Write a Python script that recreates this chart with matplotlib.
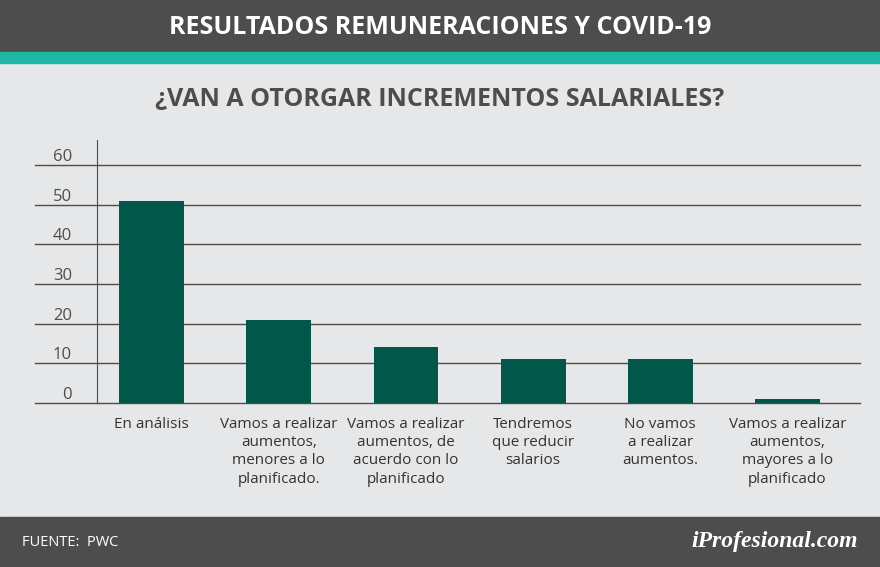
import matplotlib
matplotlib.use("Agg")
import matplotlib.pyplot as plt
from matplotlib.patches import Rectangle
import numpy as np

categories = ["En análisis",
              "Vamos a realizar\naumentos,\nmenores a lo\nplanificado.",
              "Vamos a realizar\naumentos, de\nacuerdo con lo\nplanificado",
              "Tendremos\nque reducir\nsalarios",
              "No vamos\na realizar\naumentos.",
              "Vamos a realizar\naumentos,\nmayores a lo\nplanificado"]
values = [51, 21, 14, 11, 11, 1]
yticks = [0, 10, 20, 30, 40, 50, 60]

W, H = 880, 567
fig = plt.figure(figsize=(W / 100, H / 100), dpi=100)
fig.patch.set_facecolor("#e6e7e8")
plt.rcParams["font.family"] = "Open Sans"

# header / footer bands
fig.add_artist(Rectangle((0, 1 - 52 / H), 1, 52 / H, transform=fig.transFigure, color="#4d4d4d"))
fig.add_artist(Rectangle((0, 1 - 63 / H), 1, 11 / H, transform=fig.transFigure, color="#1cb8a5"))
fig.add_artist(Rectangle((0, 0), 1, 50 / H, transform=fig.transFigure, color="#4d4d4d"))
fig.text(0.5, 1 - 27 / H, "RESULTADOS REMUNERACIONES Y COVID-19", color="white",
         fontsize=18, fontweight="bold", ha="center", va="center")
fig.text(0.5, 1 - 99 / H, "¿VAN A OTORGAR INCREMENTOS SALARIALES?", color="#4d4d4d",
         fontsize=18, fontweight="bold", ha="center", va="center")
fig.text(22 / W, 25 / H, "FUENTE:  PWC", color="white", fontsize=10.5, va="center")
fig.text(858 / W, 25 / H, "iProfesional.com", color="white", fontsize=17, fontweight="bold",
         fontfamily="Liberation Serif", style="italic", ha="right", va="center")

# axes: x 97..860 px, y 0 at 403px, 60 at 165px
y0, y60 = 403, 165
top = 140
ax = fig.add_axes([97 / W, 1 - y0 / H, (860 - 97) / W, (y0 - top) / H])
ax.set_facecolor("none")
ymax = 60 * (y0 - top) / (y0 - y60)
ax.set_ylim(0, ymax)
x = np.arange(len(categories))
ax.set_xlim(-0.43, len(categories) - 0.43)
ax.bar(x, values, width=0.51, color="#02574a", zorder=3)
for t in yticks:
    ax.axhline(t, xmin=-62 / (860 - 97), xmax=1, color="#4d4d4d", lw=1, clip_on=False, zorder=1)
ax.set_yticks(yticks)
ax.set_yticklabels([str(t) for t in yticks], fontsize=12, color="#4d4d4d")
ax.tick_params(axis="y", length=0, pad=18)
for lab in ax.get_yticklabels():
    lab.set_verticalalignment("bottom")
ax.set_xticks(x)
ax.set_xticklabels(categories, fontsize=11, color="#333333", linespacing=1.3)
ax.tick_params(axis="x", length=0, pad=10)
for s in ["top", "right", "bottom"]:
    ax.spines[s].set_visible(False)
ax.spines["left"].set_color("#4d4d4d")

fig.savefig("out.png", dpi=100, facecolor=fig.get_facecolor())
